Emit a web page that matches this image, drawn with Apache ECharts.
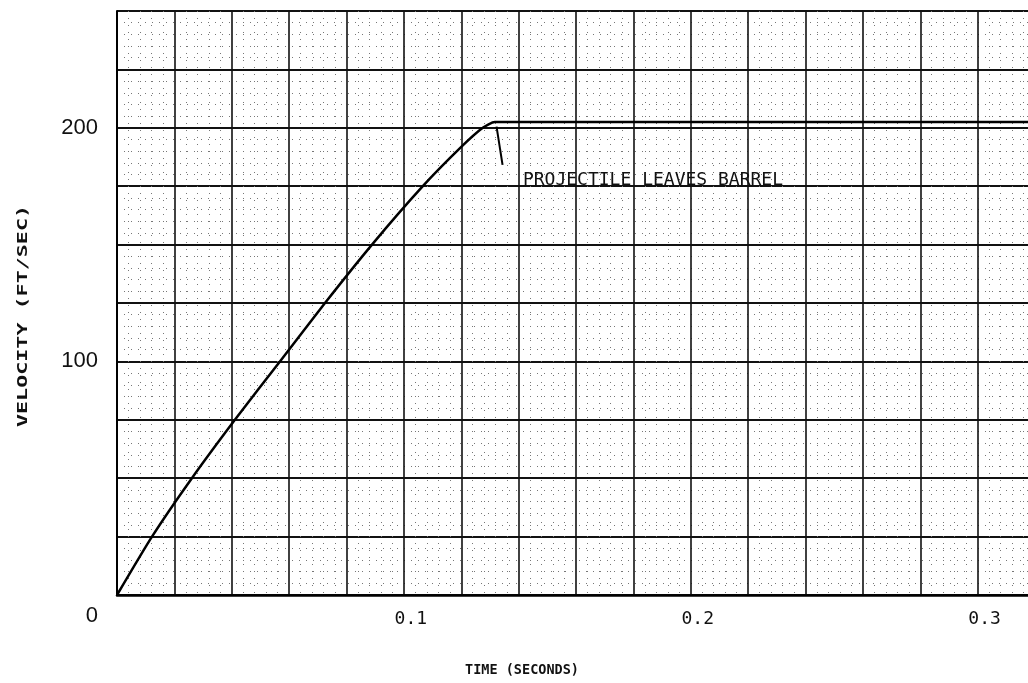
<!DOCTYPE html>
<html>
<head>
<meta charset="utf-8">
<script src="https://cdn.jsdelivr.net/npm/echarts@6/dist/echarts.min.js"></script>
<style>
html,body{margin:0;padding:0;background:#fff;}
#chart{width:1028px;height:683px;}
</style>
</head>
<body>
<div id="chart"></div>
<script>
// ---- data ----
var timeSec = [0, 0.0122, 0.0261, 0.0411, 0.0568, 0.0725, 0.0889, 0.1066, 0.1200, 0.1275, 0.1317, 0.32];
var velocityFtSec = [0, 25, 50, 75, 100, 125, 150, 175, 191.8, 200, 202.5, 202.5];
var yTickLabels = {0: '0', 100: '100', 200: '200'};
var xTickLabels = {'0.1': '0.1', '0.2': '0.2', '0.3': '0.3'};
var annotationText = 'PROJECTILE LEAVES BARREL';
var annotationAnchor = [0.1415, 177.5];
var leaderLine = [[0.1323, 200.5], [0.1344, 184.1]];
var xTitle = 'TIME (SECONDS)';
var yTitle = 'VELOCITY (FT/SEC)';

var seriesData = timeSec.map(function (t, i) { return [t, velocityFtSec[i]]; });

var chart = echarts.init(document.getElementById('chart'), null, {renderer: 'canvas'});
var mono = 'DejaVu Sans Mono, Liberation Mono, monospace';
var sans = 'Liberation Sans, Arial, sans-serif';

chart.setOption({
  animation: false,
  backgroundColor: '#fff',
  grid: {left: 117, top: 11, width: 918, height: 584, containLabel: false, outerBoundsMode: 'none', show: false},
  xAxis: {
    type: 'value', min: 0, max: 0.32, interval: 0.02,
    axisLine: {show: true, onZero: false, lineStyle: {color: '#000', width: 2.5}},
    axisTick: {show: false},
    axisLabel: {
      show: true, margin: 15, color: '#111', fontFamily: mono, fontSize: 18,
      padding: [0, 0, 0, 14],
      formatter: function (v) {
        var k = (Math.round(v * 100) / 100).toString();
        return xTickLabels[k] || '';
      }
    },
    splitLine: {show: true, lineStyle: {color: '#111', width: 1.6}},
    minorTick: {show: false, splitNumber: 5},
    minorSplitLine: {show: true, lineStyle: {color: '#777', width: 1, type: [1, 6]}}
  },
  yAxis: {
    type: 'value', min: 0, max: 250, interval: 25,
    axisLine: {show: true, lineStyle: {color: '#000', width: 2}},
    axisTick: {show: false},
    axisLabel: {
      show: true, margin: 19, color: '#111', fontFamily: sans, fontSize: 22,
      formatter: function (v) {
        if (v === 0) return '{z|0}';
        return yTickLabels[v] || '';
      },
      rich: {z: {padding: [42, 0, 0, 0], fontFamily: sans, fontSize: 22, color: '#111'}}
    },
    splitLine: {show: true, lineStyle: {color: '#111', width: 2.2}},
    minorTick: {show: false, splitNumber: 5},
    minorSplitLine: {show: true, lineStyle: {color: '#777', width: 1, type: [1, 6]}}
  },
  series: [{
    type: 'line',
    data: seriesData,
    showSymbol: false,
    symbol: 'none',
    smooth: 0.2,
    lineStyle: {color: '#000', width: 2.5},
    z: 5,
    markLine: {
      silent: true,
      symbol: ['none', 'none'],
      label: {show: false},
      lineStyle: {color: '#000', width: 2, type: 'solid'},
      data: [[{coord: leaderLine[0]}, {coord: leaderLine[1]}]]
    },
    markPoint: {
      silent: true,
      symbol: 'circle', symbolSize: 0,
      label: {
        show: true, position: [0, 0], align: 'left', verticalAlign: 'middle',
        fontFamily: mono, fontSize: 18, color: '#111',
        formatter: function () { return annotationText; }
      },
      data: [{coord: annotationAnchor}]
    }
  }],
  graphic: [
    {type: 'text', x: 522, y: 670, style: {text: xTitle, fontFamily: mono, fontSize: 13.5, fontWeight: 'bold', fill: '#111', align: 'center', verticalAlign: 'middle'}},
    {type: 'text', x: 23, y: 316, rotation: Math.PI / 2, scaleX: 1.55,
     style: {text: yTitle, fontFamily: mono, fontSize: 14, fontWeight: 'bold', fill: '#111', align: 'center', verticalAlign: 'middle'}}
  ]
});
</script>
</body>
</html>
